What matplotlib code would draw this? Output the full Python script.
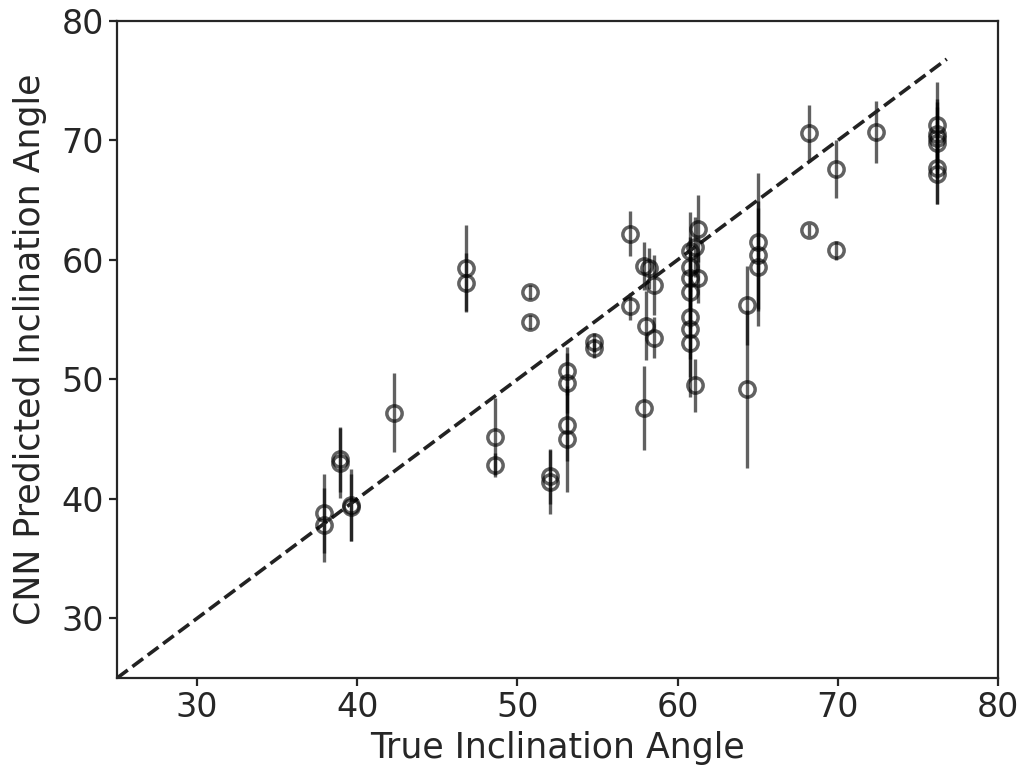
'''

true vs CNN predicted inclination angle

'''
import numpy as np
import matplotlib
matplotlib.use('Agg')
import matplotlib.pyplot as plt

# true inclination, predicted inclination, predicted error
true_incl = [37.9, 37.9, 38.9, 38.9, 39.6, 39.6, 42.3, 46.8, 46.8, 48.6,
             48.6, 50.8, 50.8, 52.0, 52.0, 53.1, 53.1, 53.1, 53.1, 54.8,
             54.8, 57.0, 57.0, 57.9, 57.9, 58.0, 58.2, 58.5, 58.5, 60.8,
             60.8, 60.8, 60.8, 60.8, 60.8, 60.8, 61.1, 61.1, 61.3, 61.3,
             64.3, 64.3, 65.0, 65.0, 65.0, 68.2, 68.2, 69.9, 69.9, 72.4,
             76.2, 76.2, 76.2, 76.2, 76.2, 76.2]
pred_incl = [38.8, 37.8, 43.3, 43.0, 39.5, 39.3, 47.2, 59.3, 58.1, 45.2,
             42.8, 57.3, 54.8, 41.9, 41.4, 50.7, 49.7, 46.2, 45.0, 53.1,
             52.6, 62.2, 56.1, 59.5, 47.6, 54.5, 59.3, 57.9, 53.5, 60.7,
             59.4, 58.5, 57.3, 55.2, 54.2, 53.0, 61.1, 49.5, 62.6, 58.5,
             56.2, 49.2, 61.5, 60.4, 59.4, 70.6, 62.5, 67.6, 60.8, 70.7,
             71.3, 70.5, 70.2, 69.8, 67.7, 67.2]
pred_err = [3.3, 3.1, 2.7, 2.9, 3.0, 2.8, 3.3, 3.6, 2.5, 3.2,
            1.0, 0.6, 0.6, 2.3, 2.7, 2.0, 2.5, 3.0, 4.4, 0.8,
            0.8, 1.9, 1.1, 2.0, 3.5, 2.9, 1.7, 2.5, 1.7, 3.3,
            2.5, 2.8, 3.0, 3.5, 4.0, 4.5, 2.5, 2.2, 2.8, 2.1,
            3.3, 6.6, 5.8, 4.5, 4.9, 2.4, 0.5, 2.4, 0.8, 2.6,
            3.6, 3.0, 3.0, 3.0, 3.0, 2.5]
one_to_one = [25., 76.8]


def PlotInclination():
    txtc = '#262626'
    plt.rcParams['font.family'] = ['DejaVu Sans']
    plt.rcParams['text.color'] = txtc
    plt.rcParams['axes.labelcolor'] = txtc
    plt.rcParams['xtick.color'] = txtc
    plt.rcParams['ytick.color'] = txtc

    fig = plt.figure(figsize=(10.24, 7.74), dpi=100)
    sub = fig.add_axes([0.1143, 0.124, 0.8603, 0.849])

    sub.errorbar(true_incl, pred_incl, yerr=pred_err, fmt='o', mfc='none',
                 mec='k', ms=11, mew=2.5, ecolor='k', elinewidth=2.4,
                 capsize=0, alpha=0.62, ls='none')
    sub.plot(one_to_one, one_to_one, c='#222222', ls='--', lw=2.6)

    # axes
    sub.set_xlim([25., 80.])
    sub.set_ylim([25., 80.])
    sub.set_xticks(np.arange(30., 81., 10.))
    sub.set_yticks(np.arange(30., 81., 10.))
    sub.set_xticklabels(['30', '40', '50', '60', '70', '80'])
    sub.set_yticklabels(['30', '40', '50', '60', '70', '80'])
    sub.tick_params(labelsize=24, length=6, width=1.6, direction='out')
    for sp in sub.spines.values():
        sp.set_linewidth(1.6)
        sp.set_color(txtc)
    sub.set_xlabel('True Inclination Angle', fontsize=25, labelpad=5)
    sub.set_ylabel('CNN Predicted Inclination Angle', fontsize=25,
                   labelpad=10)

    fig.savefig('out.png', dpi=100)
    plt.close()
    return None


if __name__ == '__main__':
    PlotInclination()
